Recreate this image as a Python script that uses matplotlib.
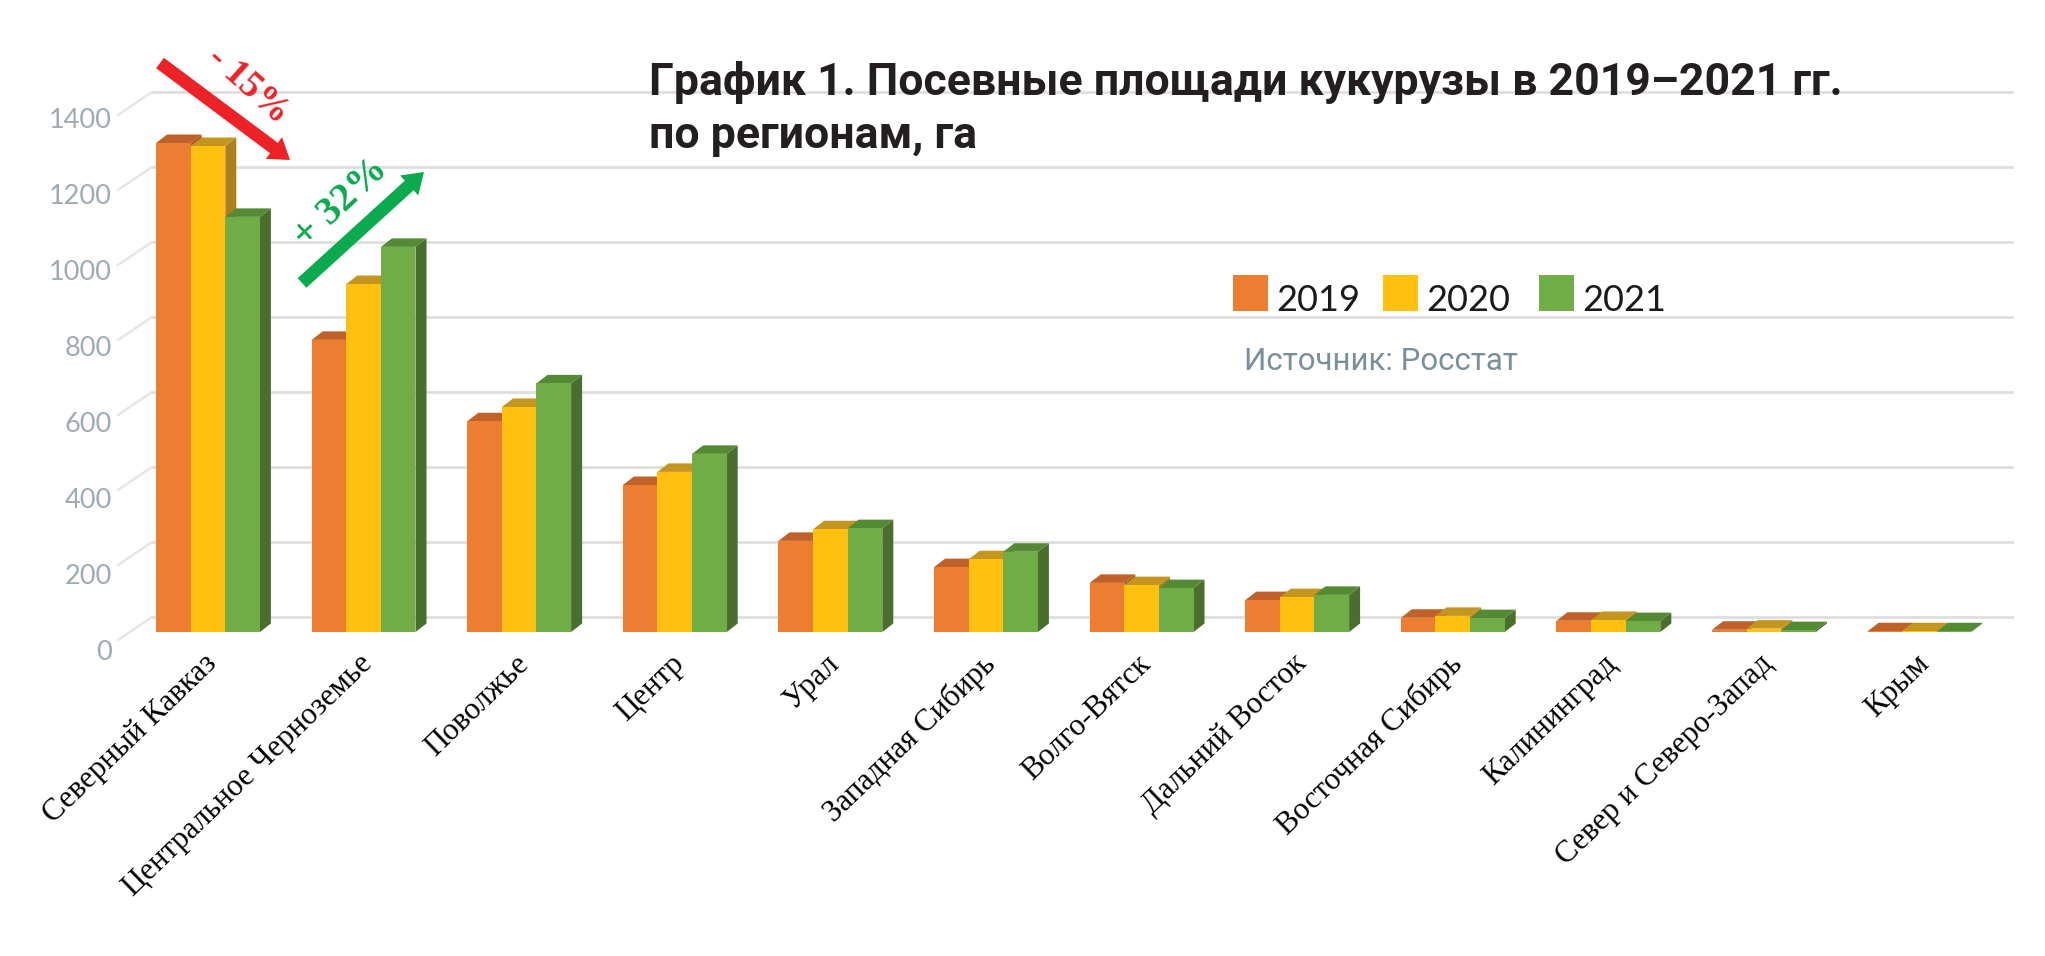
import numpy as np
from matplotlib import pyplot as plt
from matplotlib.patches import FancyArrow, Polygon, Rectangle
from matplotlib.transforms import Affine2D

regions = ['Северный Кавказ', 'Центральное Черноземье', 'Поволжье', 'Центр', 'Урал',
           'Западная Сибирь', 'Волго-Вятск', 'Дальний Восток', 'Восточная Сибирь',
           'Калининград', 'Север и Северо-Запад', 'Крым']
years = ['2019', '2020', '2021']
values_2019 = [1304, 779, 562, 392, 243, 173, 131, 85, 38, 30, 6, 2]
values_2020 = [1296, 928, 600, 427, 274, 194, 125, 93, 43, 32, 9, 2]
values_2021 = [1107, 1027, 663, 475, 277, 214, 117, 99, 37, 29, 5, 2]
y_ticks = [0, 200, 400, 600, 800, 1000, 1200, 1400]

front = ['#ED7D31', '#FFC00F', '#70AD47']
top = ['#BF6128', '#C4961F', '#558A35']
side = ['#A85A22', '#AE7F20', '#4A6E2E']
grid_col = '#DEDEDE'

W, H = 2045, 956
fig = plt.figure(figsize=(W / 100, H / 100), dpi=100, facecolor='white')

# plot area in pixels, 200 units = 75 px, one group = 155.6 px
px_left, px_right, px_base = 152, 2012, 632
px_per_unit = 0.375
px_per_group = 155.6
y_max = 1480
ax = fig.add_axes([px_left / W, (H - px_base) / H, (px_right - px_left) / W,
                   y_max * px_per_unit / H])
ax.set_xlim((px_left - 208) / px_per_group, (px_right - 208) / px_per_group)
ax.set_ylim(0, y_max)
ax.patch.set_visible(False)
for s in ax.spines.values():
    s.set_visible(False)

bar_w = 34.6 / px_per_group
depth_x = 11 / px_per_group
depth_y = 8.5 / px_per_unit
wall_lift = 15 / px_per_unit
slant_x = 34 / px_per_group
slant_y = 23 / px_per_unit

# back wall lines and the slanted floor lines next to the labels
x0, x1 = ax.get_xlim()
for v in y_ticks:
    ax.plot([x0, x1], [v + wall_lift] * 2, color=grid_col, lw=2, zorder=1, clip_on=False)
    ax.plot([x0 - slant_x, x0], [v + wall_lift - slant_y, v + wall_lift],
            color='#E6E6E6', lw=1.8, zorder=1, clip_on=False)

x = np.arange(len(regions))
z = 3
for k, vals in enumerate([values_2019, values_2020, values_2021]):
    for i, v in enumerate(vals):
        l = x[i] + (k - 1.5) * bar_w
        r = l + bar_w
        ax.add_patch(Polygon([(r, 0), (r + depth_x, depth_y), (r + depth_x, v + depth_y), (r, v)],
                             fc=side[k], ec='none', zorder=z, clip_on=False))
        ax.add_patch(Polygon([(l, v), (l + depth_x, v + depth_y), (r + depth_x, v + depth_y), (r, v)],
                             fc=top[k], ec='none', zorder=z, clip_on=False))
    ax.bar(x + (k - 1) * bar_w, vals, width=bar_w, color=front[k], zorder=z + 0.5, clip_on=False)
    z += 1

ax.set_xticks(x, regions, rotation=44, ha='right', va='center', rotation_mode='anchor',
              family='Liberation Serif', fontsize=22.2, color='black')
ax.set_yticks(y_ticks, [str(t) for t in y_ticks], family='Lato', fontsize=19.5, color='#9FABB3')
ax.tick_params(axis='both', length=0)
ax.tick_params(axis='x', pad=20)
ax.tick_params(axis='y', pad=3)
# labels sit lower than their ticks and run on a slightly larger step (76 px per 200)
for t, lab in zip(y_ticks, ax.get_yticklabels()):
    lab.set_transform(lab.get_transform() + Affine2D().translate(-36, -18.5 + 0.005 * t))
for lab in ax.get_xticklabels():
    lab.set_transform(lab.get_transform() + Affine2D().translate(5, 0))

# everything else is placed in picture pixels
over = fig.add_axes([0, 0, 1, 1], zorder=5)
over.set_xlim(0, W)
over.set_ylim(H, 0)
over.axis('off')

over.text(649, 95, 'График 1. Посевные площади кукурузы в 2019–2021 гг.', family='Roboto',
          weight='bold', fontsize=32.1, color='#231F20', va='baseline', ha='left')
over.text(649, 148, 'по регионам, га', family='Roboto', weight='bold', fontsize=32.1,
          color='#231F20', va='baseline', ha='left')

for name, col, bx, tx in zip(years, front, [1233, 1383, 1539], [1276, 1426, 1582]):
    over.add_patch(Rectangle((bx, 275), 35.5, 36, fc=col, ec='none'))
    over.text(tx, 311, name, family='Lato', fontsize=26, color='#1A1A1A', va='baseline', ha='left')

over.text(1244, 361, 'Источник: Росстат', family='Roboto', fontsize=22.5,
          color='#7A8F9C', va='center', ha='left')

over.add_patch(FancyArrow(160, 63, 130, 97, width=13, head_width=27, head_length=20,
                          length_includes_head=True, fc='#EC2227', ec='none'))
over.add_patch(FancyArrow(302, 283, 122, -111, width=13, head_width=27, head_length=20,
                          length_includes_head=True, fc='#0BAA4F', ec='none'))
over.text(248, 85, '- 15%', family='Liberation Serif', weight='bold', fontsize=27, color='#EC2227',
          rotation=-42, ha='center', va='center', rotation_mode='anchor')
over.text(341, 203, '+ 32%', family='Liberation Serif', weight='bold', fontsize=29, color='#0BAA4F',
          rotation=43, ha='center', va='center', rotation_mode='anchor')

fig.savefig('out.png', dpi=100)
